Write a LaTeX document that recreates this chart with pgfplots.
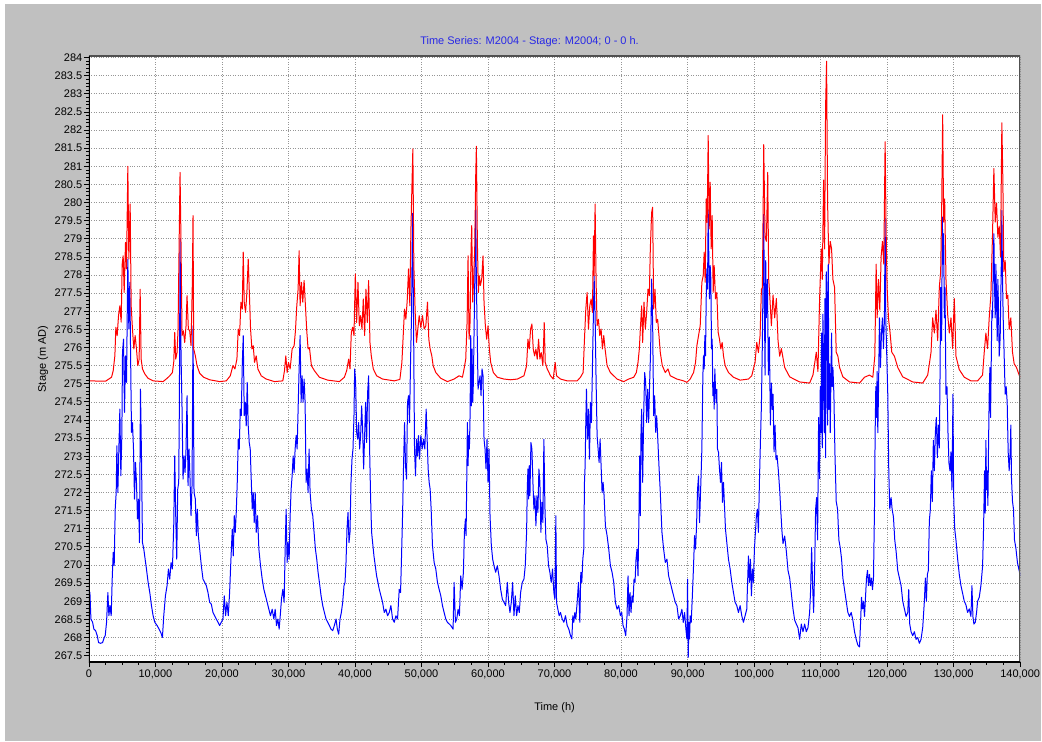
\documentclass[border=0pt]{standalone}
\usepackage{pgfplots}
\pgfplotsset{compat=1.18}
\usepackage{fontspec}
\setmainfont{Liberation Sans}
\definecolor{bggray}{RGB}{192,192,192}
\definecolor{titleblue}{RGB}{40,40,230}
\definecolor{gridgray}{RGB}{150,150,150}
\definecolor{framegray}{RGB}{80,80,80}
\begin{document}
\begin{tikzpicture}[x=1pt,y=1pt]
\fill[white] (0,0) rectangle (1042,742);
\fill[bggray] (5,0) rectangle (1042,738);
\begin{axis}[
  at={(89pt,79.3pt)}, anchor=south west,
  width=932pt, height=606.7pt, scale only axis,
  xmin=0, xmax=140000, ymin=267.32, ymax=284.044,
  axis background/.style={fill=white},
  axis line style={draw=none},
  xtick={0,10000,...,140000},
  ytick={267.5,268,...,284},
  minor x tick num=3, minor y tick num=4,
  tick align=outside, tick pos=left,
  major tick length=5pt, minor tick length=2.5pt,
  every tick/.style={black, line width=0.8pt},
  grid=major,
  major grid style={gridgray, line width=0.7pt, dash pattern=on 0.8pt off 1.6pt},
  scaled x ticks=false, scaled y ticks=false,
  /pgf/number format/assume math mode=true,
  xticklabel style={/pgf/number format/fixed, /pgf/number format/1000 sep={,}, inner sep=2pt},
  yticklabel style={/pgf/number format/fixed, /pgf/number format/precision=1, inner sep=1.5pt},
  tick label style={font=\fontsize{11}{13}\selectfont, black},
  every axis title shift=0pt,
  title={Time Series: M2004 - Stage: M2004; 0 - 0 h.},
  title style={at={(rel axis cs:0.4732,1.0242)}, anchor=center, font=\fontsize{11}{13}\selectfont, text=titleblue},
  xlabel={Time (h)},
  xlabel style={at={(rel axis cs:0.5,-0.0747)}, anchor=center, font=\fontsize{11}{13}\selectfont},
  ylabel={Stage (m AD)},
  ylabel style={at={(rel axis cs:-0.0494,0.5)}, anchor=center, font=\fontsize{11}{13}\selectfont},
]
\addplot[color={rgb,255:red,0;green,0;blue,255}, line width=1pt, line join=round] table {
t v
0 269.3
150 269.24
300 268.51
550 268.42
750 268.23
1000 268.19
1250 268.05
1450 267.86
1750 267.84
2050 267.86
2300 268.0
2450 268.05
2650 268.42
2850 269.24
3000 268.6
3150 268.88
3350 268.6
3500 269.61
3650 270.35
3800 269.98
3950 271.54
4100 272.0
4200 273.29
4350 272.0
4500 273.2
4650 274.3
4800 272.46
4950 273.57
5050 275.87
5200 276.23
5350 274.21
5500 275.77
5650 275.04
5850 278.44
6000 276.51
6150 277.8
6300 275.22
6400 273.66
6550 273.93
6700 273.2
6850 271.82
7000 272.83
7150 272.28
7300 271.27
7450 271.82
7600 270.62
7750 274.85
7900 273.01
8050 270.62
8250 270.44
8450 270.16
8650 269.89
8900 269.52
9150 269.24
9400 268.88
9650 268.6
9900 268.42
10250 268.33
10550 268.23
10800 268.14
11050 268.0
11250 268.6
11500 269.15
11750 269.43
11950 269.89
12150 269.61
12350 270.07
12550 269.89
12750 271.08
12900 273.01
13050 271.36
13200 270.16
13350 272.09
13500 272.28
13600 274.49
13700 279.0
13850 275.77
14000 274.3
14150 272.37
14300 273.01
14450 272.55
14600 273.2
14750 274.67
14900 272.19
15050 273.2
15200 272.37
15350 271.36
15500 272.19
15650 276.6
15800 272.0
16000 271.82
16150 270.81
16300 271.54
16450 270.81
16650 270.44
16900 269.98
17150 269.61
17400 269.52
17650 269.43
17900 269.24
18150 268.97
18400 268.92
18650 268.69
18900 268.6
19150 268.51
19400 268.42
19650 268.33
19900 268.42
20150 268.51
20350 269.15
20550 268.6
20750 268.97
20950 268.6
21150 269.24
21350 270.16
21550 270.99
21700 270.25
21850 271.36
22000 270.9
22150 271.45
22300 272.28
22450 273.47
22600 273.2
22750 274.3
22900 274.12
23050 275.5
23200 276.33
23350 274.12
23500 274.49
23650 273.84
23800 275.04
23950 273.84
24100 273.38
24250 273.2
24400 272.37
24550 271.54
24700 272.0
24850 271.17
25000 272.0
25150 270.9
25350 271.36
25550 270.44
25800 269.98
26050 269.61
26300 269.33
26550 269.15
26800 268.97
27050 268.78
27300 268.6
27550 268.78
27800 268.51
28000 268.78
28200 268.33
28400 268.51
28600 268.23
28800 268.69
28950 269.06
29150 269.33
29350 268.97
29500 270.44
29650 271.54
29800 270.07
29950 270.62
30100 270.16
30250 271.36
30400 272.09
30550 272.46
30700 273.01
30850 272.55
31000 273.2
31150 273.57
31300 273.2
31450 274.3
31600 275.41
31750 276.33
31900 274.49
32050 275.22
32200 274.49
32350 275.13
32500 274.49
32650 272.28
32800 272.65
32950 272.0
33100 273.2
33250 272.0
33450 271.54
33650 271.36
33850 270.9
34050 270.44
34250 270.16
34450 269.8
34650 269.52
34900 269.15
35150 268.88
35400 268.69
35650 268.51
35900 268.42
36150 268.33
36400 268.23
36650 268.19
36900 268.33
37150 268.51
37350 268.23
37550 268.09
37750 268.51
37950 268.69
38150 268.97
38350 269.43
38500 269.52
38650 270.07
38800 270.99
38950 271.45
39100 270.62
39250 270.9
39400 272.28
39550 272.92
39700 273.2
39850 274.12
39950 275.41
40100 275.04
40250 273.66
40400 273.47
40550 273.93
40700 273.2
40850 273.57
41000 274.39
41150 273.75
41300 272.65
41450 273.57
41600 274.49
41750 273.38
41900 274.76
42050 275.22
42200 273.2
42350 271.82
42500 270.9
42650 270.62
42850 270.25
43050 269.98
43250 269.7
43450 269.52
43650 269.33
43900 269.15
44150 268.97
44400 268.69
44650 268.78
44900 268.6
45150 268.69
45400 268.88
45650 268.51
45900 268.42
46150 268.6
46400 268.51
46650 269.33
46850 269.24
47000 270.25
47150 271.36
47300 272.74
47450 273.93
47600 272.74
47750 272.37
47900 274.49
48050 274.67
48200 273.93
48350 275.59
48500 276.88
48650 279.7
48800 276.88
48950 273.2
49100 272.46
49250 273.47
49400 273.01
49550 273.57
49700 272.92
49900 273.57
50100 273.2
50300 273.47
50500 273.2
50700 274.3
50850 273.47
51000 272.65
51150 272.28
51300 272.09
51450 271.54
51650 270.53
51900 270.07
52150 269.89
52400 269.52
52650 269.33
52900 269.15
53150 268.88
53400 268.69
53650 268.51
53900 268.42
54400 268.33
54750 268.23
54900 269.52
55100 268.42
55300 268.51
55500 268.78
55700 268.6
55900 269.7
56100 269.33
56300 269.8
56450 270.9
56600 271.27
56700 270.81
56800 272.28
56900 273.93
57000 272.74
57100 273.57
57200 273.2
57300 274.12
57400 276.33
57500 274.39
57600 275.96
57700 274.49
57800 275.04
57900 276.42
58050 278.35
58150 279.91
58250 277.8
58350 276.69
58500 274.85
58650 275.04
58800 275.22
58950 274.67
59100 275.41
59250 275.22
59400 273.47
59550 273.2
59700 272.65
59850 273.47
60000 272.28
60150 273.2
60300 271.36
60500 270.53
60700 270.16
60900 269.98
61150 269.8
61400 269.98
61650 269.7
61900 269.33
62150 269.06
62400 268.97
62650 268.88
62900 269.52
63100 268.97
63300 268.69
63500 268.97
63700 269.52
63900 268.6
64100 269.15
64300 268.6
64500 268.88
64700 268.69
64900 269.24
65150 269.52
65400 269.61
65600 269.98
65800 270.9
65900 272.09
66000 272.65
66100 271.82
66200 272.74
66300 271.91
66450 273.38
66600 273.2
66750 272.28
66900 271.54
67050 271.91
67200 271.08
67350 271.91
67500 271.45
67650 272.65
67800 272.28
67950 270.9
68100 271.73
68250 271.17
68400 273.47
68550 271.63
68700 270.71
68900 270.53
69100 269.98
69300 269.8
69500 269.52
69700 269.89
69900 269.24
70050 269.06
70200 271.36
70300 268.97
70500 268.78
70700 268.6
70900 268.69
71150 268.51
71400 268.42
71650 268.6
71900 268.33
72150 268.23
72400 268.05
72600 267.96
72750 268.6
72900 268.42
73050 268.69
73200 268.51
73400 268.97
73600 269.52
73800 268.42
73950 269.8
74100 269.52
74250 270.16
74400 270.44
74500 272.28
74600 272.74
74700 273.93
74800 274.85
74950 273.47
75100 274.3
75250 272.92
75400 274.49
75550 273.93
75700 275.5
75850 276.97
75950 277.98
76100 276.88
76250 275.04
76400 273.57
76550 273.2
76700 272.83
76850 273.47
77000 272.74
77150 272.0
77300 272.28
77450 271.91
77650 271.08
77900 270.81
78150 270.44
78400 269.98
78650 269.8
78900 269.52
79150 268.97
79400 268.78
79650 268.88
79900 268.6
80100 268.69
80300 268.33
80500 268.23
80700 268.05
80900 268.6
81050 269.7
81200 268.6
81350 269.24
81500 268.69
81650 269.15
81800 268.97
81950 269.61
82100 269.52
82250 270.16
82400 270.44
82550 269.7
82700 271.45
82800 273.01
82900 271.36
83000 273.66
83100 274.3
83250 272.28
83400 274.12
83550 275.31
83700 275.04
83850 273.93
84000 274.85
84150 273.93
84300 275.04
84450 275.96
84600 277.89
84750 276.69
84900 274.12
85050 274.67
85200 273.66
85350 274.12
85500 273.57
85700 272.74
85900 272.0
86150 270.9
86400 270.44
86650 270.07
86900 270.16
87150 269.7
87400 269.52
87650 269.33
87900 269.15
88150 268.97
88400 268.88
88650 268.51
88900 268.6
89150 268.78
89350 268.42
89550 268.69
89750 268.23
89900 267.96
90000 269.61
90100 267.45
90200 268.42
90300 267.96
90400 268.6
90550 268.42
90700 269.06
90900 269.98
91050 270.81
91200 270.44
91350 271.08
91500 272.09
91650 272.46
91800 271.17
92000 272.28
92150 273.2
92300 275.22
92400 275.77
92500 275.41
92600 276.33
92700 275.77
92800 277.34
92900 278.17
93000 277.61
93100 279.8
93200 278.44
93300 277.34
93400 278.26
93500 277.89
93600 275.96
93700 276.23
93800 274.67
93900 275.04
94000 274.3
94100 275.41
94200 274.85
94300 274.49
94400 274.85
94500 273.2
94650 273.11
94800 272.65
94950 272.28
95100 272.83
95250 271.73
95400 272.28
95550 271.63
95700 270.99
95900 270.62
96150 270.16
96400 269.89
96650 269.52
96900 269.24
97150 268.97
97400 268.88
97650 268.69
97900 268.88
98150 268.6
98400 268.42
98650 268.6
98900 268.78
99150 270.25
99300 269.52
99450 270.16
99600 269.15
99750 269.89
99900 269.52
100050 270.44
100200 270.9
100350 271.36
100500 271.54
100650 270.9
100800 272.28
100950 273.38
101100 274.39
101250 276.19
101350 277.88
101450 279.67
101550 277.24
101650 275.24
101750 278.4
101850 276.82
102000 277.88
102150 275.24
102300 276.29
102450 273.86
102600 275.02
102750 274.29
102850 274.71
103000 273.12
103150 273.86
103300 272.91
103450 273.02
103650 272.6
103850 272.07
104000 271.54
104200 270.91
104350 270.59
104600 270.8
104850 270.38
105100 269.85
105350 269.64
105600 269.22
105850 268.79
106100 268.48
106350 268.37
106600 268.27
106850 267.95
107100 268.37
107350 268.16
107600 268.37
107850 268.16
108100 268.27
108350 268.69
108500 269.32
108650 270.48
108800 269.43
108950 268.69
109100 269.85
109250 271.54
109400 271.86
109550 270.69
109700 274.07
109850 272.38
109950 274.92
110050 273.65
110150 276.4
110250 273.23
110350 276.92
110450 275.24
110550 273.65
110650 277.35
110750 272.96
110850 278.09
110950 277.35
111050 273.86
111150 278.3
111250 274.29
111350 275.55
111450 273.65
111550 275.13
111650 276.4
111750 274.92
111850 275.45
112000 274.71
112150 273.12
112350 271.75
112550 271.54
112750 270.69
112950 270.48
113150 270.17
113350 269.64
113600 269.32
113850 269.0
114100 268.69
114350 268.58
114600 268.69
114850 268.48
115100 268.16
115350 267.95
115600 267.79
115850 267.74
116000 268.37
116150 269.11
116300 268.79
116450 269.0
116600 268.58
116750 269.11
116900 269.64
117050 269.85
117200 269.43
117350 269.74
117500 269.43
117650 269.64
117800 269.32
117950 269.64
118100 271.54
118200 273.65
118300 274.92
118400 274.07
118500 275.34
118600 273.65
118700 274.71
118850 276.82
119000 275.45
119150 276.4
119300 276.82
119450 275.97
119600 276.82
119700 279.56
119800 276.82
119950 275.76
120100 274.71
120250 272.6
120400 271.54
120600 271.86
120750 271.54
120950 271.33
121150 270.69
121350 270.38
121600 269.85
121850 269.64
122100 269.43
122350 269.0
122600 268.79
122850 268.58
123100 268.69
123250 269.32
123400 268.37
123600 268.16
123850 268.05
124100 268.16
124350 267.95
124600 268.0
124850 267.84
125100 267.95
125350 268.27
125600 269.0
125750 269.64
125900 269.0
126050 269.74
126200 269.85
126350 271.22
126500 271.54
126650 272.6
126800 271.75
126950 273.44
127100 272.6
127250 273.65
127400 274.07
127550 272.96
127700 273.86
127850 273.23
127950 275.13
128050 277.66
128200 276.19
128300 279.6
128400 278.3
128500 279.14
128600 276.82
128700 277.66
128850 274.71
129000 274.92
129150 273.65
129300 272.81
129450 272.6
129600 273.12
129750 272.07
129900 274.71
130000 271.96
130150 271.02
130350 270.69
130600 270.17
130850 269.74
131100 269.43
131350 269.22
131600 269.0
131850 268.9
132100 268.69
132350 268.79
132600 268.58
132750 269.43
132900 268.58
133050 268.37
133250 268.42
133450 268.69
133600 269.0
133850 269.11
134100 269.43
134350 269.96
134500 271.01
134650 272.6
134750 271.43
134850 273.44
134950 272.07
135050 272.6
135150 271.64
135250 273.33
135350 274.71
135450 275.45
135550 274.07
135650 275.55
135750 277.03
135850 276.82
135950 278.3
136050 279.14
136150 277.66
136250 276.82
136350 278.3
136450 277.35
136550 276.19
136650 277.88
136750 277.03
136850 275.76
137000 276.29
137150 278.09
137250 279.78
137350 277.88
137450 276.82
137600 275.76
137750 274.71
137900 274.92
138050 274.5
138200 273.12
138350 272.6
138500 273.12
138600 273.86
138700 272.38
138850 271.75
139000 271.54
139150 270.69
139350 270.48
139600 270.06
139850 269.85
140000 269.7
};
\addplot[color={rgb,255:red,255;green,0;blue,0}, line width=1pt, line join=round] table {
t v
0 275.08
2500 275.07
2900 275.12
3400 275.18
3650 275.36
3900 275.77
4050 276.56
4250 276.33
4450 276.88
4650 277.15
4850 276.7
5000 278.3
5150 278.53
5300 277.52
5500 278.9
5650 278.17
5850 281.0
6000 278.44
6200 279.96
6350 277.15
6550 276.5
6750 275.96
6950 276.33
7150 275.96
7350 275.5
7550 275.68
7700 277.61
7850 275.68
8050 275.41
8400 275.27
8900 275.15
9650 275.08
11150 275.06
11750 275.15
12150 275.22
12550 275.31
12750 275.59
12900 276.42
13050 275.68
13250 275.86
13400 276.51
13550 278.72
13700 280.83
13850 278.81
14000 276.33
14200 276.46
14400 276.14
14600 276.6
14750 277.43
14950 276.51
15150 276.46
15350 276.05
15550 277.8
15650 279.64
15750 275.96
16000 275.77
16250 275.5
16650 275.29
17250 275.18
18150 275.11
19650 275.06
20650 275.08
21250 275.22
21650 275.5
21950 275.41
22250 275.68
22450 276.51
22650 276.33
22850 277.25
23050 277.06
23200 278.63
23350 277.25
23550 276.97
23750 277.52
23950 278.44
24100 277.61
24300 276.51
24500 275.96
24700 276.05
24900 275.59
25150 275.77
25400 275.41
25900 275.22
26650 275.13
27900 275.06
29150 275.08
29400 275.36
29600 275.77
29800 275.31
30000 275.59
30250 275.41
30550 275.96
30850 276.05
31050 276.46
31250 277.15
31450 277.61
31600 278.67
31750 277.15
31950 277.8
32150 277.25
32350 277.85
32550 277.15
32750 276.46
32950 275.96
33150 276.0
33450 275.5
33900 275.36
34650 275.18
35900 275.1
37650 275.06
38400 275.18
38750 275.36
39050 275.68
39250 275.41
39450 276.42
39650 276.56
39850 276.33
40050 278.03
40250 276.69
40450 277.8
40650 276.6
40850 276.88
41050 276.51
41250 277.34
41450 276.33
41650 277.61
41850 276.69
42050 277.85
42250 276.14
42450 275.77
42750 275.41
43250 275.22
44150 275.13
45900 275.08
46750 275.12
47050 275.59
47250 276.33
47450 277.06
47650 276.78
47850 277.29
48050 278.17
48250 277.15
48400 279.18
48550 280.37
48700 281.48
48850 278.26
49050 276.97
49250 276.14
49450 276.51
49650 276.88
49900 276.55
50150 276.88
50400 276.51
50650 276.6
50900 277.25
51100 276.23
51300 275.96
51550 275.77
51750 275.5
52150 275.31
52900 275.15
53900 275.06
54900 275.13
55650 275.22
56150 275.18
56400 275.41
56650 275.68
56850 276.69
57000 278.53
57150 276.23
57300 276.69
57450 278.72
57550 279.36
57700 277.25
57850 277.98
58000 278.72
58150 280.74
58250 281.55
58400 278.9
58550 277.52
58700 277.98
58850 277.71
59050 277.89
59250 278.53
59400 277.25
59600 276.6
59800 276.23
60000 276.6
60200 275.96
60400 275.59
60800 275.31
61400 275.18
62400 275.13
63400 275.11
64400 275.13
65400 275.22
65800 275.5
66000 276.23
66200 275.96
66400 276.51
66600 276.65
66800 275.96
67000 275.77
67200 275.96
67400 275.68
67600 276.23
67800 275.68
68000 275.86
68250 275.5
68450 276.69
68600 275.59
68900 275.41
69400 275.22
69800 275.13
70100 275.59
70300 275.22
70900 275.13
71900 275.08
73400 275.08
73900 275.18
74300 275.31
74500 276.23
74700 277.06
74900 277.52
75100 276.51
75300 277.15
75500 277.34
75700 276.97
75850 279.08
75950 277.98
76100 279.96
76250 277.8
76400 276.6
76600 276.78
76800 276.33
77000 276.51
77200 275.96
77400 276.33
77600 275.96
77900 275.5
78400 275.31
78900 275.22
79400 275.13
80400 275.06
81150 275.13
81900 275.18
82300 275.31
82550 275.59
82750 275.96
82900 276.51
83100 277.15
83250 276.14
83450 277.25
83650 276.51
83850 276.97
84050 277.61
84250 277.43
84400 278.72
84600 279.73
84750 279.87
84900 277.06
85100 277.61
85300 276.69
85500 276.78
85700 276.33
85900 275.86
86200 275.5
86650 275.31
87050 275.41
87400 275.22
88400 275.13
89400 275.08
89900 275.04
90400 275.13
90900 275.31
91200 275.59
91400 276.05
91650 276.33
91900 276.6
92150 277.8
92350 277.98
92500 278.63
92650 277.8
92800 280.1
92950 279.45
93100 281.85
93250 279.27
93400 280.56
93550 278.72
93700 279.64
93850 277.52
94000 278.26
94200 277.34
94400 277.52
94600 276.42
94800 276.23
95000 275.96
95200 276.14
95400 275.77
95650 275.5
96150 275.31
96900 275.18
97900 275.1
99150 275.13
99650 275.22
99900 275.41
100150 275.59
100400 276.14
100650 275.86
100900 276.33
101100 277.6
101250 277.66
101450 281.6
101650 279.04
101850 278.93
102050 280.83
102200 277.88
102350 277.45
102600 276.6
102850 277.45
103100 276.82
103350 277.35
103600 276.19
103850 275.76
104100 275.97
104600 275.45
105350 275.19
106850 275.05
108350 275.02
108850 275.24
109100 275.55
109350 275.87
109600 275.34
109850 277.35
110100 278.72
110250 277.88
110450 280.62
110600 278.72
110750 282.63
110900 283.9
111050 279.99
111250 278.3
111450 278.93
111650 278.72
111850 277.88
112100 277.66
112350 275.87
112600 275.76
112850 275.45
113350 275.19
114350 275.05
115850 275.02
116600 275.18
117350 275.24
117850 275.18
118150 275.76
118350 278.3
118500 276.82
118700 277.88
118900 277.03
119100 278.51
119300 278.93
119500 278.3
119700 281.68
119850 279.25
120000 277.66
120200 276.82
120450 276.4
120700 275.87
121100 275.76
121600 275.45
122350 275.19
123850 275.05
125350 275.02
126100 275.24
126350 275.55
126600 275.87
126850 276.82
127100 276.4
127350 277.03
127600 276.19
127850 277.66
128050 278.09
128200 279.78
128350 282.42
128500 279.46
128650 280.1
128850 277.88
129100 276.92
129350 276.4
129600 276.82
129850 275.97
130100 277.35
130350 275.76
130850 275.39
131600 275.18
132600 275.08
133600 275.08
134350 275.24
134600 275.87
134850 276.4
135100 275.97
135350 276.82
135600 277.45
135850 279.14
136050 280.94
136250 279.46
136450 279.99
136650 279.04
136850 279.35
137050 278.51
137250 282.2
137400 280.62
137550 278.09
137750 278.4
137950 277.35
138150 277.45
138350 276.5
138600 276.82
138850 275.87
139100 275.55
139450 275.45
139850 275.24
140000 275.18
};
\draw[line width=1.5pt, framegray] (rel axis cs:0,1) -- (rel axis cs:1,1) -- (rel axis cs:1,0);
\draw[line width=2.5pt, black] (rel axis cs:0,1) -- (rel axis cs:0,0) -- (rel axis cs:1,0);
\end{axis}
\end{tikzpicture}
\end{document}
